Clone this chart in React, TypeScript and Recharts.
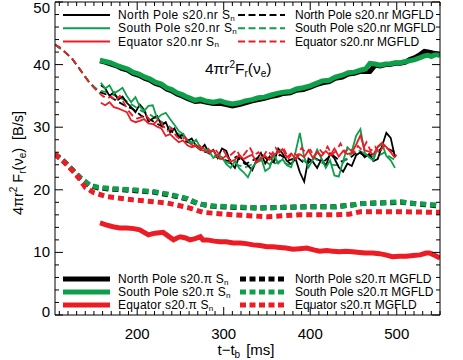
import React from 'react';
import { LineChart, Line, XAxis, YAxis } from 'recharts';

const FONT = "'Liberation Sans', Arial, Helvetica, sans-serif";
const BLACK = '#000000';
const GREEN = '#0e9f4b';
const RED = '#ec1c24';

// ---------- s20.nr S_n (thin solid) ----------
const tNrSn = [158,163,168,173,178,183,188,193,198,203,208,213,218,223,228,233,238,243,248,253,258,263,268,273,278,283,288,293,298,303,308,313,318,323,328,333,338,343,348,353,358,363,368,373,378,383,388,393,398,403,408,413,418,423,428,433,438,443,448,453,458,463,468,473,478,483,488,493,498];
const npNrSn = [36.7,36.2,35.0,35.6,34.4,34.9,33.9,33.2,32.4,33.6,32.8,30.9,31.4,31.8,30.3,30.8,29.2,29.8,28.4,28.9,27.8,28.2,27.0,26.4,27.2,25.9,26.4,25.1,26.6,26.2,24.3,23.5,25.4,24.6,23.9,23.1,24.8,25.9,24.2,25.3,24.4,26.6,25.8,24.6,24.1,25.0,22.8,21.3,25.0,24.5,23.5,24.9,23.8,25.8,25.0,23.6,22.9,24.2,23.8,25.5,26.0,25.2,25.7,24.6,24.9,27.0,29.1,28.3,25.2];
const spNrSn = [37.1,36.2,36.7,35.4,35.8,36.3,35.0,34.0,34.8,33.3,32.6,33.4,33.5,31.4,32.0,32.3,31.3,30.4,29.4,28.9,27.9,27.3,28.0,26.8,26.5,26.2,25.1,25.6,25.2,24.1,23.5,24.6,23.4,22.8,22.0,23.6,24.4,25.2,23.0,23.5,25.6,24.2,24.9,23.9,23.6,26.0,29.1,25.2,23.6,24.8,26.4,25.0,23.5,24.7,22.3,22.1,24.6,26.8,26.1,28.6,29.7,25.9,25.2,24.7,26.8,27.4,25.4,24.7,23.5];
const eqNrSn = [33.9,33.5,34.0,33.2,33.0,32.7,32.4,31.1,30.8,31.0,31.3,30.6,30.5,30.1,29.8,28.6,28.9,28.2,27.6,27.9,27.1,26.8,27.0,26.4,26.2,25.9,26.3,25.2,24.9,25.5,24.5,24.8,25.6,24.9,25.3,25.6,24.4,25.0,25.4,24.8,25.7,26.0,26.5,25.2,25.8,24.9,25.7,25.2,26.3,25.1,26.0,25.4,26.2,25.5,26.6,25.3,26.2,25.7,25.9,27.2,28.7,26.3,26.1,25.6,26.9,27.5,26.8,26.0,25.1];

// ---------- s20.nr MGFLD (thin dashed) ----------
const tEqNrMg = [105,110,115,120,125,130,135,140,145,150,155,160,165,170,175,180,185,190,195,200,205,210,215,220,225,230,235,240,245,250,255,260,265,270,275,280,285,290,295,300,305,310,315,320,325,330,335,340,345,350,355,360,365,370,375,380,385,390,395,400,405,410,415,420,425,430,435,440,445,450,455,460,465,470,475,480,485,490,495,500];
const eqNrMg = [43.2,42.8,42.2,41.6,40.9,40.0,39.0,38.0,37.1,36.3,35.6,35.0,34.6,34.9,34.2,35.0,33.8,32.6,31.8,31.4,31.6,32.0,31.0,30.6,31.3,30.2,29.4,29.8,28.6,28.0,28.4,27.5,27.0,27.4,26.6,26.9,26.1,26.5,25.6,26.2,25.2,25.8,26.4,25.0,25.9,26.8,25.5,26.0,25.1,26.3,25.6,26.7,25.8,26.4,25.0,26.1,25.4,26.7,25.9,26.4,25.3,26.6,25.8,26.9,25.6,26.2,27.4,26.0,26.7,25.9,27.0,26.3,27.6,26.2,26.9,25.8,27.2,26.5,25.9,25.4];
const tPoleNrMg = [105,115,125,135,145,155,165,175,185,195,205,215,225,235,245,255,265,275,285,295,305,315,325,335,345,355,365,375,385,395,405,415,425,435,445,455,465,475,485,495,500];
const npNrMg = [43.2,42.2,40.9,39.0,37.1,35.7,35.2,34.3,33.5,32.9,31.8,31.2,30.4,29.7,28.9,27.8,27.3,26.2,25.8,25.0,24.6,25.3,24.1,24.8,25.5,24.3,25.6,24.7,25.2,24.0,25.1,24.4,25.7,24.5,25.0,26.1,25.3,25.8,26.9,26.2,25.5];
const spNrMg = [43.2,42.2,40.9,39.0,37.1,35.9,35.6,35.0,34.4,33.5,32.6,32.0,31.1,30.4,29.2,28.3,27.4,26.6,25.6,25.1,24.3,24.0,23.6,24.2,24.8,23.9,24.6,24.0,25.3,24.4,25.0,24.2,24.0,23.9,25.5,26.4,25.6,25.2,25.9,25.0,24.6];

// ---------- s20.pi S_n (thick solid) ----------
const tPolePiSn = [157,163,169,176,182,189,195,202,209,215,221,228,234,240,246,252,258,267,273,279,288,296,303,310,318,325,333,340,347,354,362,369,377,384,392,400,407,414,422,429,437,444,451,458,464,469,475,481,487,492,498,504,510,515,521,527,532,536,540,543,547,550];
const spPiSn = [40.7,40.5,40.3,39.9,39.6,39.3,38.8,38.5,38.0,37.7,37.2,36.9,36.3,36.0,35.5,35.2,34.8,34.3,34.5,34.2,34.0,34.2,33.9,33.7,33.9,34.2,34.4,34.7,34.8,35.1,35.4,35.6,35.7,36.1,36.3,36.6,37.0,37.4,37.5,38.0,38.3,38.7,38.8,39.1,39.3,40.2,40.1,39.9,40.1,40.1,40.3,40.3,40.5,40.6,40.8,41.1,41.4,41.5,41.3,41.5,41.6,41.4];
const npPiSn = [40.6,40.4,40.1,39.8,39.4,39.1,38.6,38.3,37.8,37.5,37.0,36.7,36.1,35.8,35.3,35.0,34.6,34.1,34.2,34.0,33.8,33.8,33.6,33.4,33.6,33.9,34.2,34.4,34.6,34.9,35.1,35.4,35.5,35.9,36.0,36.4,36.8,37.1,37.3,37.8,38.0,38.5,38.6,38.9,38.9,38.9,39.9,39.8,40.0,40.0,40.2,40.2,40.4,40.8,41.1,41.6,42.1,42.0,41.9,41.8,41.7,41.6];
const tEqPiSn = [157,164,172,180,188,196,203,208,213,218,223,230,236,242,246,250,256,261,267,273,276,281,289,296,303,311,319,326,334,342,350,357,365,372,380,388,396,404,411,419,426,434,441,449,457,464,472,480,487,495,503,511,519,527,534,538,543,547,550];
const eqPiSn = [14.7,14.4,14.1,13.9,13.9,13.8,13.6,13.2,12.8,13.0,13.1,13.2,12.6,12.0,12.3,12.5,12.3,12.0,12.2,12.5,12.0,12.0,11.8,11.7,11.7,11.5,11.5,11.4,11.2,11.1,10.9,10.9,10.8,10.7,10.5,10.6,10.7,10.4,10.2,10.3,10.2,10.1,10.2,10.1,10.0,9.9,9.9,9.8,9.6,9.3,9.4,9.4,9.5,9.6,9.9,9.9,9.6,9.3,9.1];

// ---------- s20.pi MGFLD (thick dotted) ----------
const tPolePiMg = [105,115,125,135,145,155,170,195,220,240,258,270,285,310,340,370,400,430,450,460,480,505,520,535,550];
const spPiMg = [25.7,24.6,23.2,21.8,20.8,20.4,20.2,20.0,19.7,19.2,18.6,17.8,17.4,17.3,17.1,17.2,17.3,17.3,17.6,17.8,17.9,18.1,17.8,17.7,17.5];
const npPiMg = [25.7,24.6,23.2,21.8,20.7,20.3,20.1,19.9,19.6,19.1,18.5,17.8,17.4,17.2,17.1,17.2,17.3,17.3,17.6,17.8,17.9,18.0,17.8,17.6,17.4];
const tEqPiMg = [105,115,125,133,140,149,165,195,234,258,276,311,350,388,426,445,458,504,547,550];
const eqPiMg = [25.7,24.5,23.1,21.8,20.4,19.6,18.9,18.4,17.9,17.2,16.4,16.0,15.7,16.0,16.0,16.1,16.5,16.5,16.4,16.4];

// ---------- axes / labels ----------
const xMajor = [200, 300, 400, 500];
const yMajor = [0, 10, 20, 30, 40, 50];
const xMinor = Array.from({ length: 45 }, (_, i) => 110 + i * 10);
const yMinor = Array.from({ length: 26 }, (_, i) => i * 2);
const regions = ['North Pole', 'South Pole', 'Equator'];
const colors = [BLACK, GREEN, RED];

const zip = (ts: number[], vs: number[]) =>
  ts.slice(0, Math.min(ts.length, vs.length)).map((t, i) => ({ t, v: vs[i] }));

function BottomTick(props: any) {
  const { x, y, payload } = props;
  const major = xMajor.includes(payload.value);
  return (
    <g>
      <line x1={x} x2={x} y1={y} y2={y - (major ? 8 : 4)} stroke="#000" strokeWidth={1} />
      {major && (
        <text x={x} y={y + 24} textAnchor="middle" fontSize={15} fontFamily={FONT} fill="#000">
          {payload.value}
        </text>
      )}
    </g>
  );
}
function TopTick(props: any) {
  const { x, y, payload } = props;
  const major = xMajor.includes(payload.value);
  return <line x1={x} x2={x} y1={y} y2={y + (major ? 8 : 4)} stroke="#000" strokeWidth={1} />;
}
function LeftTick(props: any) {
  const { x, y, payload } = props;
  const major = yMajor.includes(payload.value);
  const dy = payload.value === 50 ? 11 : payload.value === 0 ? 2 : 5;
  return (
    <g>
      <line x1={x} x2={x + (major ? 8 : 4)} y1={y} y2={y} stroke="#000" strokeWidth={1} />
      {major && (
        <text x={x - 5} y={y + dy} textAnchor="end" fontSize={15} fontFamily={FONT} fill="#000">
          {payload.value}
        </text>
      )}
    </g>
  );
}
function RightTick(props: any) {
  const { x, y, payload } = props;
  const major = yMajor.includes(payload.value);
  return <line x1={x} x2={x - (major ? 8 : 4)} y1={y} y2={y} stroke="#000" strokeWidth={1} />;
}

function Legends() {
  const topY = 15, topStep = 13.3;
  const botY = 279, botStep = 13;
  return (
    <g fontFamily={FONT} fontSize={12} fill="#000">
      {regions.map((r, i) => {
        const y = topY + i * topStep;
        return (
          <g key={'t' + i}>
            <line x1={63} x2={110} y1={y} y2={y} stroke={colors[i]} strokeWidth={2} />
            <text x={118} y={y + 4} letterSpacing={0.4}>
              {r} s20.nr S<tspan fontSize={8} dy={1.5}>n</tspan>
            </text>
            <line x1={238} x2={285} y1={y} y2={y} stroke={colors[i]} strokeWidth={2} strokeDasharray="7 3.5" />
            <text x={295} y={y + 4}>{r} s20.nr MGFLD</text>
          </g>
        );
      })}
      {regions.map((r, i) => {
        const y = botY + i * botStep;
        return (
          <g key={'b' + i}>
            <line x1={63} x2={110} y1={y} y2={y} stroke={colors[i]} strokeWidth={5} />
            <text x={118} y={y + 4} letterSpacing={0.2}>
              {r} s20.π S<tspan fontSize={8} dy={1.5}>n</tspan>
            </text>
            <line x1={240} x2={286} y1={y} y2={y} stroke={colors[i]} strokeWidth={5} strokeDasharray="6 3.5" />
            <text x={295} y={y + 4}>{r} s20.π MGFLD</text>
          </g>
        );
      })}
    </g>
  );
}

function Labels() {
  return (
    <g fontFamily={FONT} fill="#000">
      <text x={205} y={74} fontSize={15.5}>
        4πr<tspan fontSize={10} dy={-6}>2</tspan>
        <tspan dy={6}>F</tspan>
        <tspan fontSize={10} dy={3}>r</tspan>
        <tspan dy={-3}>(ν</tspan>
        <tspan fontSize={10} dy={3}>e</tspan>
        <tspan dy={-3}>)</tspan>
      </text>
      <text x={246} y={355} fontSize={15} textAnchor="middle">
        t−t<tspan fontSize={10} dy={3}>b</tspan>
        <tspan dy={-3} dx={6}>[ms]</tspan>
      </text>
      <text transform="translate(23,163) rotate(-90)" fontSize={14.5} textAnchor="middle">
        4πr<tspan fontSize={10} dy={-6}>2</tspan>
        <tspan dy={6} dx={4}>F</tspan>
        <tspan fontSize={10} dy={3}>r</tspan>
        <tspan dy={-3}>(ν</tspan>
        <tspan fontSize={10} dy={3}>e</tspan>
        <tspan dy={-3}>)</tspan>
        <tspan dx={8}>[B/s]</tspan>
      </text>
    </g>
  );
}

export default function App() {
  const common = { xAxisId: 'b', yAxisId: 'l', dataKey: 'v', dot: false, isAnimationActive: false, type: 'linear' as const };
  return (
    <div style={{ position: 'absolute', left: 0, top: 0, background: '#fff' }}>
      <LineChart width={463} height={360} margin={{ top: 1, right: 22, bottom: 44, left: 20 }}>
        <XAxis xAxisId="b" type="number" dataKey="t" domain={[105, 550]} allowDataOverflow ticks={xMinor} interval={0}
          height={1} tickSize={0} tickMargin={0} tick={<BottomTick />} tickLine={false} axisLine={{ stroke: '#000' }} />
        <XAxis xAxisId="top" orientation="top" type="number" dataKey="t" domain={[105, 550]} allowDataOverflow ticks={xMinor} interval={0}
          height={1} tickSize={0} tickMargin={0} tick={<TopTick />} tickLine={false} axisLine={{ stroke: '#000' }} />
        <YAxis yAxisId="l" type="number" domain={[0, 50]} allowDataOverflow ticks={yMinor} interval={0}
          width={35} tickSize={0} tickMargin={0} tick={<LeftTick />} tickLine={false} axisLine={{ stroke: '#000' }} />
        <YAxis yAxisId="r" orientation="right" type="number" domain={[0, 50]} allowDataOverflow ticks={yMinor} interval={0}
          width={1} tickSize={0} tickMargin={0} tick={<RightTick />} tickLine={false} axisLine={{ stroke: '#000' }} />

        <Line {...common} data={zip(tPolePiMg, npPiMg)} stroke={BLACK} strokeWidth={5} strokeDasharray="6 4" />
        <Line {...common} data={zip(tPolePiMg, spPiMg)} stroke={GREEN} strokeWidth={5} strokeDasharray="6 4" />
        <Line {...common} data={zip(tEqPiMg, eqPiMg)} stroke={RED} strokeWidth={5} strokeDasharray="6 4" />
        <Line {...common} data={zip(tPolePiSn, npPiSn)} stroke={BLACK} strokeWidth={5} />
        <Line {...common} data={zip(tPolePiSn, spPiSn)} stroke={GREEN} strokeWidth={5} />
        <Line {...common} data={zip(tEqPiSn, eqPiSn)} stroke={RED} strokeWidth={5} />

        <Line {...common} data={zip(tPoleNrMg, npNrMg)} stroke={BLACK} strokeWidth={1.8} strokeDasharray="7 4" />
        <Line {...common} data={zip(tPoleNrMg, spNrMg)} stroke={GREEN} strokeWidth={1.8} strokeDasharray="7 4" />
        <Line {...common} data={zip(tNrSn, npNrSn)} stroke={BLACK} strokeWidth={1.8} />
        <Line {...common} data={zip(tNrSn, spNrSn)} stroke={GREEN} strokeWidth={1.8} />
        <Line {...common} data={zip(tEqNrMg, eqNrMg)} stroke={RED} strokeWidth={1.8} strokeDasharray="7 4" />
        <Line {...common} data={zip(tNrSn, eqNrSn)} stroke={RED} strokeWidth={1.8} />

        <Legends />
        <Labels />
      </LineChart>
    </div>
  );
}
